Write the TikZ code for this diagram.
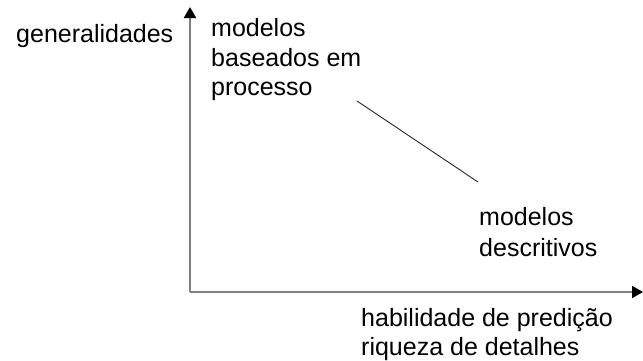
\documentclass[tikz,border=0pt]{standalone}
\usepackage{fontspec}
\setmainfont{Liberation Sans}
\usetikzlibrary{arrows.meta}
\begin{document}
\begin{tikzpicture}[x=1pt,y=-1pt,
  lbl/.style={anchor=base west,inner sep=0pt,font=\fontsize{25}{30}\selectfont},
  axis/.style={draw=black!50,line width=2pt,-{Triangle[length=11pt,width=12pt,black]}},
  trend/.style={draw=black!85,line width=0.9pt}]
\useasboundingbox (0,0) rectangle (643,360);
\coordinate (origin) at (190,292);
\coordinate (ytop) at (190,7);
\coordinate (xend) at (643,292);
\draw[axis] (origin) -- (ytop);
\draw[axis] (origin) -- (xend);
\coordinate (ta) at (357,101);
\coordinate (tb) at (478,182);
\draw[trend] (ta) -- (tb);
\node[lbl] (gen) at (16,42) {generalidades};
\node[lbl] (p1) at (211,36) {modelos};
\node[lbl] (p2) at (211,66) {baseados em};
\node[lbl] (p3) at (211,95) {processo};
\node[lbl] (d1) at (479,225) {modelos};
\node[lbl] (d2) at (479,256) {descritivos};
\node[lbl] (h1) at (361,326) {habilidade de predição};
\node[lbl] (h2) at (361,355) {riqueza de detalhes};
\end{tikzpicture}
\end{document}
